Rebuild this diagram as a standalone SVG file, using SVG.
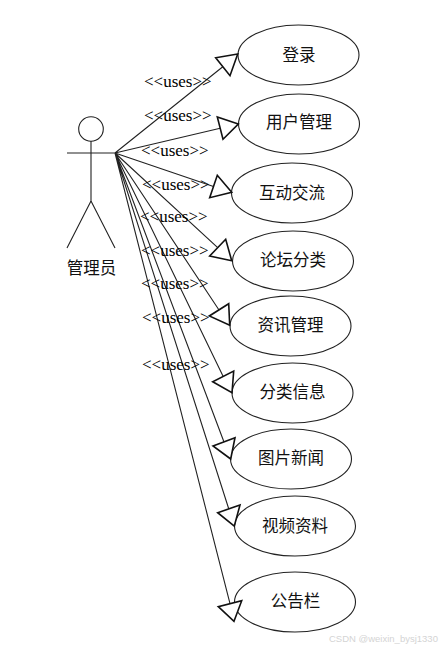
<svg xmlns="http://www.w3.org/2000/svg" width="439" height="650" viewBox="0 0 439 650">
<style>
.s{fill:none;stroke:#222;stroke-width:1.1}
.a{fill:#fff;stroke:#111;stroke-width:1.6}
.u{fill:#fff;stroke:#222;stroke-width:1.1}
.n{font-family:"Noto Sans CJK SC","Liberation Sans",sans-serif;font-size:16.500px;fill:#111;text-anchor:middle}
.l{font-family:"Liberation Serif",serif;font-size:17px;fill:#000}
.w{font-family:"Liberation Sans",sans-serif;font-size:9.500px;fill:#d4d4d4}
</style>
<rect width="439" height="650" fill="#fff"/>
<g id="actor">
<circle class="s" cx="91" cy="129" r="12.300"/>
<path class="s" d="M91 141V201M67 153H115M91 201L67 248M91 201L115 248"/>
<text class="n" x="91.500" y="274">管理员</text>
</g>
<g id="uc1"><ellipse class="u" cx="298.500" cy="55" rx="60.500" ry="30"/><text class="n" x="299" y="61">登录</text></g>
<g id="uc2"><ellipse class="u" cx="299" cy="124" rx="60.500" ry="30"/><text class="n" x="299" y="128">用户管理</text></g>
<g id="uc3"><ellipse class="u" cx="292" cy="193" rx="60.500" ry="30"/><text class="n" x="292" y="199">互动交流</text></g>
<g id="uc4"><ellipse class="u" cx="293" cy="261" rx="60.500" ry="30"/><text class="n" x="293" y="266">论坛分类</text></g>
<g id="uc5"><ellipse class="u" cx="290.500" cy="326" rx="60.500" ry="30"/><text class="n" x="290.500" y="331">资讯管理</text></g>
<g id="uc6"><ellipse class="u" cx="292.500" cy="393" rx="60.500" ry="30"/><text class="n" x="292.500" y="398">分类信息</text></g>
<g id="uc7"><ellipse class="u" cx="291" cy="459" rx="60.500" ry="30"/><text class="n" x="291" y="464">图片新闻</text></g>
<g id="uc8"><ellipse class="u" cx="295" cy="526" rx="60.500" ry="30"/><text class="n" x="295" y="532">视频资料</text></g>
<g id="uc9"><ellipse class="u" cx="295" cy="602" rx="60.500" ry="30"/><text class="n" x="295.500" y="607">公告栏</text></g>
<g id="connectors">
<path class="s" d="M115 153L222.800 66.700M115 153L220.200 128.200M115 153L213.500 186.500M115 153L217.700 247.700M115 153L219 310M115 153L223.200 376.400M115 153L224 442M115 153L228.800 509M115 153L230 603.700"/>
<path class="a" d="M237.700 54L215.700 57.700L230 75.700Z"/>
<path class="a" d="M238.300 124L217.300 117L223 139.300Z"/>
<path class="a" d="M231.700 192.300L217.300 175.300L209.700 197.700Z"/>
<path class="a" d="M231.700 260.700L225.700 239.300L209.700 256Z"/>
<path class="a" d="M229.700 325.300L228.700 303.700L209.300 316Z"/>
<path class="a" d="M232 392.700L233.700 371L212.700 381.700Z"/>
<path class="a" d="M230.700 459L235 437.700L213 446Z"/>
<path class="a" d="M234.300 526L240 505L217.700 512.700Z"/>
<path class="a" d="M234 621.300L241.700 600.700L218.300 606.700Z"/>
</g>
<g id="labels">
<text class="l" x="144" y="87">&lt;&lt;uses&gt;&gt;</text>
<text class="l" x="144" y="121">&lt;&lt;uses&gt;&gt;</text>
<text class="l" x="141" y="156">&lt;&lt;uses&gt;&gt;</text>
<text class="l" x="142" y="190">&lt;&lt;uses&gt;&gt;</text>
<text class="l" x="140" y="222">&lt;&lt;uses&gt;&gt;</text>
<text class="l" x="141" y="256">&lt;&lt;uses&gt;&gt;</text>
<text class="l" x="141" y="289">&lt;&lt;uses&gt;&gt;</text>
<text class="l" x="142" y="323">&lt;&lt;uses&gt;&gt;</text>
<text class="l" x="142" y="370">&lt;&lt;uses&gt;&gt;</text>
</g>
<text class="w" x="329" y="642">CSDN @weixin_bysj1330</text>
</svg>
